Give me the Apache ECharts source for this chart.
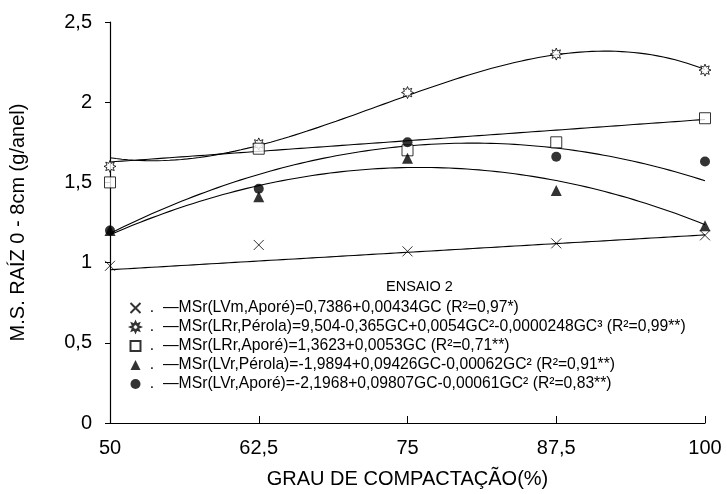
<!DOCTYPE html>
<html>
<head>
<meta charset="utf-8">
<script src="https://cdn.jsdelivr.net/npm/echarts@6/dist/echarts.min.js"></script>
<style>
  html, body { margin: 0; padding: 0; background: #fff; }
  #chart { width: 727px; height: 494px; }
</style>
</head>
<body>
<div id="chart"></div>
<script>
// Compaction levels (GC, %)
const gc = [50, 62.5, 75, 87.5, 100];

// Root dry mass, 0-8 cm (g/ring)
const lvmApore   = [0.98, 1.11, 1.07, 1.12, 1.17];
const lrrPerola  = [1.60, 1.74, 2.06, 2.30, 2.20];
const lrrApore   = [1.50, 1.71, 1.70, 1.75, 1.90];
const lvrPerola  = [1.20, 1.41, 1.65, 1.45, 1.23];
const lvrApore   = [1.20, 1.46, 1.75, 1.66, 1.63];

// Regression coefficients (constant, GC, GC², GC³)
const coefLvmApore  = [0.7386, 0.00434];
const coefLrrPerola = [9.504, -0.365, 0.0054, -0.0000248];
const coefLrrApore  = [1.3623, 0.0053];
const coefLvrPerola = [-1.9894, 0.09426, -0.00062];
const coefLvrApore  = [-2.1968, 0.09807, -0.00061];

const legendNames = [
  'MSr(LVm,Aporé)=0,7386+0,00434GC (R²=0,97*)',
  'MSr(LRr,Pérola)=9,504-0,365GC+0,0054GC²-0,0000248GC³ (R²=0,99**)',
  'MSr(LRr,Aporé)=1,3623+0,0053GC (R²=0,71**)',
  'MSr(LVr,Pérola)=-1,9894+0,09426GC-0,00062GC² (R²=0,91**)',
  'MSr(LVr,Aporé)=-2,1968+0,09807GC-0,00061GC² (R²=0,83**)'
];

const yTicks = [0, 0.5, 1, 1.5, 2, 2.5];
const xTicks = [50, 62.5, 75, 87.5, 100];

// Fitted polynomial evaluated along the GC range
function fitted(coef) {
  const pts = [];
  for (let x = 50; x <= 100; x += 0.5) {
    let y = 0;
    for (let k = 0; k < coef.length; k++) y += coef[k] * Math.pow(x, k);
    pts.push([x, y]);
  }
  return pts;
}

// Sun-like marker outline (8 spikes)
function sunPath() {
  let d = '';
  const n = 8;
  for (let i = 0; i < n * 2; i++) {
    const r = i % 2 === 0 ? 10 : 5.5;
    const a = Math.PI * i / n - Math.PI / 2;
    const x = (10 + r * Math.cos(a)).toFixed(2);
    const y = (10 + r * Math.sin(a)).toFixed(2);
    d += (i === 0 ? 'M' : 'L') + x + ',' + y;
  }
  return 'path://' + d + 'Z';
}
const crossPath = 'path://M0,0L10,10M10,0L0,10';
const sun = sunPath();

const fontFam = 'Liberation Sans, Arial, sans-serif';
const comma = v => String(v).replace('.', ',');

function pairs(vals) { return gc.map((x, i) => [x, vals[i]]); }

const markerDefs = [
  { vals: lvmApore,  symbol: crossPath, size: 10, style: { color: 'none', borderColor: '#000', borderWidth: 1 } },
  { vals: lrrPerola, symbol: sun,       size: 12, style: { color: '#fff', borderColor: '#000', borderWidth: 1 } },
  { vals: lrrApore,  symbol: 'rect',    size: 11, style: { color: '#fff', borderColor: '#000', borderWidth: 1 } },
  { vals: lvrPerola, symbol: 'triangle',size: 11, style: { color: '#000' } },
  { vals: lvrApore,  symbol: 'circle',  size: 10, style: { color: '#000' } }
];
const fits = [coefLvmApore, coefLrrPerola, coefLrrApore, coefLvrPerola, coefLvrApore];

const series = [];
fits.forEach((c) => {
  series.push({
    type: 'line', data: fitted(c), showSymbol: false, symbol: 'none',
    lineStyle: { color: '#000', width: 1.1 }, silent: true, z: 2
  });
});
markerDefs.forEach((m, i) => {
  series.push({
    name: legendNames[i], type: 'scatter', data: pairs(m.vals),
    symbol: m.symbol, symbolSize: m.size, itemStyle: m.style, z: 5
  });
});

const chart = echarts.init(document.getElementById('chart'));
chart.setOption({
  animation: false,
  backgroundColor: '#fff',
  title: {
    text: 'ENSAIO 2', left: 381, top: 274,
    textStyle: { fontFamily: fontFam, fontSize: 14.5, fontWeight: 'normal', color: '#000' }
  },
  legend: {
    orient: 'vertical', left: 123, top: 294,
    itemWidth: 10, itemHeight: 10, itemGap: 1,
    data: legendNames.map((n, i) => ({ name: n, icon: markerDefs[i].symbol })),
    formatter: n => ' .  \u2014' + n,
    textStyle: { fontFamily: fontFam, fontSize: 15.7, lineHeight: 18, color: '#000' },
    selectedMode: false
  },
  grid: { left: 110, right: 22, top: 22, bottom: 71 },
  xAxis: {
    type: 'value', min: 50, max: 100, interval: 12.5,
    name: 'GRAU DE COMPACTAÇÃO(%)', nameLocation: 'middle', nameGap: 46,
    nameTextStyle: { fontFamily: fontFam, fontSize: 20, color: '#000' },
    axisLine: { lineStyle: { color: '#000', width: 1.2 } },
    axisTick: { inside: true, length: 7, lineStyle: { color: '#000' } },
    axisLabel: { formatter: v => xTicks.includes(v) ? comma(v) : '', fontFamily: fontFam, fontSize: 20, color: '#000', margin: 15 },
    splitLine: { show: false }
  },
  yAxis: {
    type: 'value', min: 0, max: 2.5, interval: 0.5,
    name: 'M.S. RAÍZ 0 - 8cm (g/anel)', nameLocation: 'middle', nameGap: 82,
    nameTextStyle: { fontFamily: fontFam, fontSize: 20, color: '#000' },
    axisLine: { show: true, lineStyle: { color: '#000', width: 1.2 } },
    axisTick: { show: true, inside: false, length: 5, lineStyle: { color: '#000' } },
    axisLabel: { formatter: v => yTicks.includes(v) ? comma(v) : '', fontFamily: fontFam, fontSize: 20, color: '#000', margin: 18 },
    splitLine: { show: false }
  },
  series: series
});
</script>
</body>
</html>
